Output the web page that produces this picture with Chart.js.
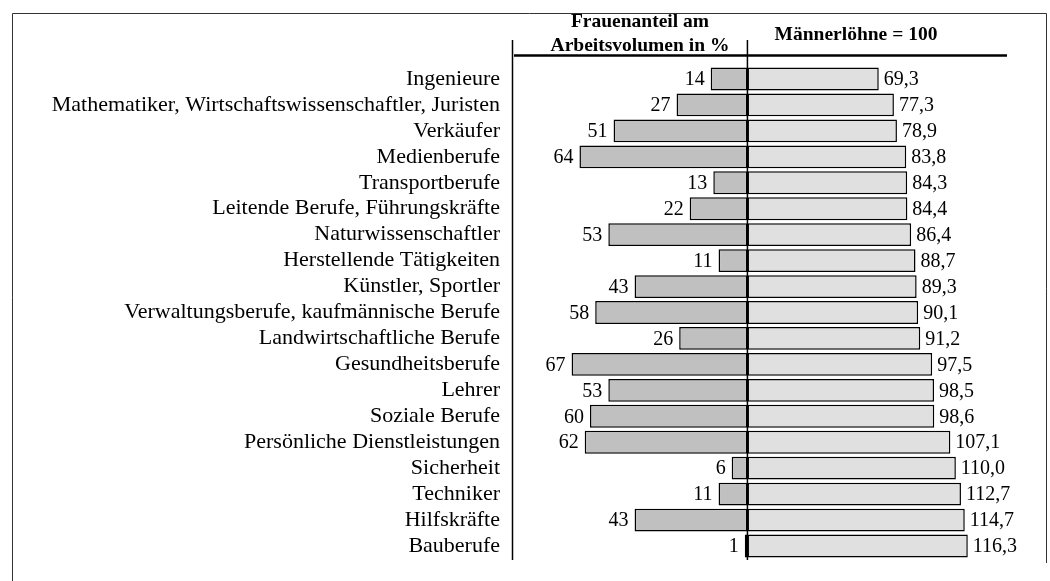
<!DOCTYPE html>
<html>
<head>
<meta charset="utf-8">
<script src="https://cdn.jsdelivr.net/npm/chart.js@4/dist/chart.umd.min.js"></script>
<style>
  html, body { margin: 0; padding: 0; background: #fff; }
  #wrap { width: 1050px; height: 581px; position: relative; }
</style>
</head>
<body>
<div id="wrap"><canvas id="chartCanvas"></canvas></div>
<script>
const categories = [
  'Ingenieure',
  'Mathematiker, Wirtschaftswissenschaftler, Juristen',
  'Verkäufer',
  'Medienberufe',
  'Transportberufe',
  'Leitende Berufe, Führungskräfte',
  'Naturwissenschaftler',
  'Herstellende Tätigkeiten',
  'Künstler, Sportler',
  'Verwaltungsberufe, kaufmännische Berufe',
  'Landwirtschaftliche Berufe',
  'Gesundheitsberufe',
  'Lehrer',
  'Soziale Berufe',
  'Persönliche Dienstleistungen',
  'Sicherheit',
  'Techniker',
  'Hilfskräfte',
  'Bauberufe'
];
// Frauenanteil am Arbeitsvolumen in %
const womenShare = [14, 27, 51, 64, 13, 22, 53, 11, 43, 58, 26, 67, 53, 60, 62, 6, 11, 43, 1];
// Frauenlöhne, Männerlöhne = 100
const wageRatio = [69.3, 77.3, 78.9, 83.8, 84.3, 84.4, 86.4, 88.7, 89.3, 90.1, 91.2, 97.5, 98.5, 98.6, 107.1, 110.0, 112.7, 114.7, 116.3];
const headerLeft = ['Frauenanteil am', 'Arbeitsvolumen in %'];
const headerRight = 'Männerlöhne = 100';

const serif = '"Liberation Serif", "Times New Roman", serif';

// lines, headers and value labels
const decor = {
  id: 'decor',
  afterDatasetsDraw(chart) {
    const { ctx, chartArea } = chart;
    const zeroX = chart.scales.xL.getPixelForValue(0);
    ctx.save();

    // outer frame (top, left, right)
    ctx.strokeStyle = '#333';
    ctx.lineWidth = 1;
    ctx.beginPath();
    ctx.moveTo(12.5, 581); ctx.lineTo(12.5, 13.5); ctx.lineTo(1046.5, 13.5); ctx.lineTo(1046.5, 563);
    ctx.stroke();

    // value labels
    ctx.fillStyle = '#000';
    ctx.font = '20px ' + serif;
    ctx.textBaseline = 'middle';
    chart.getDatasetMeta(0).data.forEach((bar, i) => {
      ctx.textAlign = 'right';
      ctx.fillText(String(womenShare[i]), bar.x - 6, bar.y + 1);
    });
    chart.getDatasetMeta(1).data.forEach((bar, i) => {
      ctx.textAlign = 'left';
      ctx.fillText(wageRatio[i].toFixed(1).replace('.', ','), bar.x + 5, bar.y + 1);
    });

    // vertical lines
    ctx.strokeStyle = '#000';
    ctx.lineWidth = 1.5;
    ctx.beginPath();
    ctx.moveTo(chartArea.left + 0.5, 40); ctx.lineTo(chartArea.left + 0.5, 560);
    ctx.moveTo(zeroX, 40); ctx.lineTo(zeroX, 560);
    ctx.stroke();

    // header rule
    ctx.lineWidth = 2.5;
    ctx.beginPath();
    ctx.moveTo(chartArea.left + 2, 55.5); ctx.lineTo(1007, 55.5);
    ctx.stroke();

    // headers
    ctx.font = 'bold 19.5px ' + serif;
    ctx.textAlign = 'center';
    ctx.textBaseline = 'alphabetic';
    ctx.fillText(headerLeft[0], 640, 27);
    ctx.fillText(headerLeft[1], 640, 51);
    ctx.fillText(headerRight, 856, 40);
    ctx.restore();
  }
};

// both axes put zero at the same pixel, with different scales per side
new Chart(document.getElementById('chartCanvas'), {
  type: 'bar',
  data: {
    labels: categories,
    datasets: [
      {
        data: womenShare.map(v => -v),
        xAxisID: 'xL',
        backgroundColor: '#c0c0c0',
        borderColor: '#000',
        borderWidth: 1.5,
        borderSkipped: false
      },
      {
        data: wageRatio,
        xAxisID: 'xR',
        backgroundColor: '#e0e0e0',
        borderColor: '#000',
        borderWidth: 1.5,
        borderSkipped: false
      }
    ]
  },
  plugins: [decor],
  options: {
    indexAxis: 'y',
    responsive: true,
    maintainAspectRatio: false,
    animation: false,
    layout: { padding: { left: 12, top: 66, right: 43, bottom: 22 } },
    datasets: { bar: { grouped: false, barPercentage: 0.88, categoryPercentage: 1 } },
    plugins: { legend: { display: false }, tooltip: { enabled: false } },
    scales: {
      xL: { type: 'linear', display: false, min: -89.7, max: 98.9 },
      xR: { type: 'linear', display: false, min: -124.3, max: 137.0 },
      y: {
        afterFit: (axis) => { axis.width = 500; },
        grid: { display: false },
        border: { display: false },
        ticks: { color: '#000', padding: 4, autoSkip: false, font: { family: serif, size: 22 } }
      }
    }
  }
});
</script>
</body>
</html>
